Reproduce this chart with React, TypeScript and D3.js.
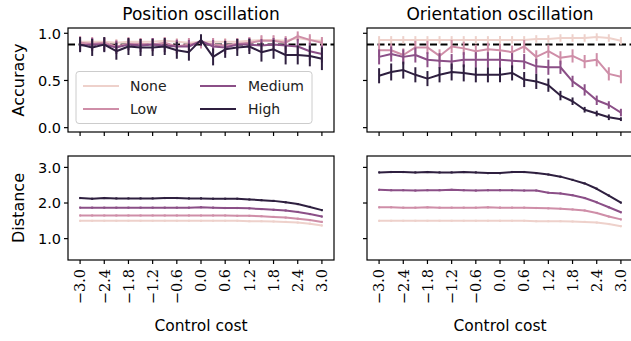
import * as d3 from 'd3';

const LEVELS = ['None', 'Low', 'Medium', 'High'];
const COLORS = ['#eed1cb', '#cf8ea8', '#8b4f87', '#2e1f3f'];

const COST = [-3.0, -2.7, -2.4, -2.1, -1.8, -1.5, -1.2, -0.9, -0.6, -0.3, 0.0, 0.3, 0.6, 0.9, 1.2, 1.5, 1.8, 2.1, 2.4, 2.7, 3.0];
const COST_TICKS = [-3.0, -2.4, -1.8, -1.2, -0.6, 0.0, 0.6, 1.2, 1.8, 2.4, 3.0];
const ACC_TICKS = [0.0, 0.5, 1.0];
const DIST_TICKS = [1.0, 2.0, 3.0];
const ACC_REF = 0.88;

// accuracy, position oscillation
const POS_ACC_NONE = [0.91, 0.91, 0.91, 0.90, 0.91, 0.91, 0.91, 0.92, 0.91, 0.90, 0.91, 0.91, 0.91, 0.91, 0.92, 0.93, 0.93, 0.92, 0.95, 0.93, 0.92];
const POS_ACC_LOW = [0.90, 0.89, 0.90, 0.86, 0.89, 0.89, 0.88, 0.90, 0.86, 0.88, 0.90, 0.88, 0.87, 0.89, 0.90, 0.92, 0.92, 0.90, 0.97, 0.93, 0.90];
const POS_ACC_MED = [0.87, 0.88, 0.88, 0.85, 0.88, 0.87, 0.88, 0.87, 0.86, 0.86, 0.92, 0.86, 0.85, 0.88, 0.88, 0.87, 0.88, 0.87, 0.86, 0.81, 0.78];
const POS_ACC_HIGH = [0.88, 0.85, 0.88, 0.81, 0.86, 0.85, 0.85, 0.86, 0.82, 0.80, 0.93, 0.75, 0.83, 0.85, 0.86, 0.80, 0.83, 0.77, 0.77, 0.76, 0.73];
const POS_ERR_NONE = [0.04, 0.04, 0.04, 0.04, 0.04, 0.04, 0.04, 0.04, 0.04, 0.04, 0.04, 0.04, 0.04, 0.04, 0.04, 0.04, 0.04, 0.04, 0.04, 0.04, 0.04];
const POS_ERR_LOW = [0.07, 0.07, 0.06, 0.07, 0.07, 0.06, 0.07, 0.06, 0.08, 0.07, 0.06, 0.07, 0.07, 0.06, 0.06, 0.06, 0.06, 0.07, 0.05, 0.06, 0.06];
const POS_ERR_MED = [0.06, 0.07, 0.07, 0.07, 0.06, 0.07, 0.07, 0.07, 0.07, 0.07, 0.05, 0.07, 0.07, 0.06, 0.07, 0.07, 0.07, 0.08, 0.08, 0.09, 0.09];
const POS_ERR_HIGH = [0.08, 0.09, 0.08, 0.09, 0.09, 0.09, 0.09, 0.09, 0.09, 0.09, 0.06, 0.09, 0.09, 0.09, 0.08, 0.10, 0.10, 0.10, 0.10, 0.11, 0.12];

// accuracy, orientation oscillation
const ORI_ACC_NONE = [0.93, 0.93, 0.93, 0.93, 0.93, 0.93, 0.93, 0.93, 0.93, 0.93, 0.93, 0.93, 0.93, 0.94, 0.94, 0.95, 0.95, 0.95, 0.96, 0.95, 0.92];
const ORI_ACC_LOW = [0.82, 0.82, 0.77, 0.85, 0.85, 0.76, 0.86, 0.84, 0.81, 0.83, 0.82, 0.80, 0.86, 0.75, 0.81, 0.74, 0.76, 0.70, 0.72, 0.57, 0.54];
const ORI_ACC_MED = [0.75, 0.78, 0.75, 0.77, 0.72, 0.71, 0.70, 0.72, 0.72, 0.72, 0.72, 0.71, 0.70, 0.65, 0.64, 0.64, 0.49, 0.40, 0.29, 0.24, 0.16];
const ORI_ACC_HIGH = [0.55, 0.59, 0.61, 0.56, 0.52, 0.56, 0.59, 0.58, 0.56, 0.56, 0.56, 0.58, 0.51, 0.49, 0.45, 0.34, 0.28, 0.19, 0.15, 0.11, 0.09];
const ORI_ERR_NONE = [0.04, 0.04, 0.04, 0.04, 0.04, 0.04, 0.04, 0.04, 0.04, 0.04, 0.04, 0.04, 0.04, 0.04, 0.04, 0.04, 0.04, 0.04, 0.04, 0.04, 0.04];
const ORI_ERR_LOW = [0.07, 0.07, 0.07, 0.07, 0.07, 0.07, 0.07, 0.07, 0.07, 0.07, 0.07, 0.07, 0.07, 0.07, 0.07, 0.07, 0.07, 0.07, 0.07, 0.07, 0.07];
const ORI_ERR_MED = [0.08, 0.08, 0.08, 0.08, 0.08, 0.08, 0.08, 0.08, 0.08, 0.08, 0.08, 0.08, 0.08, 0.08, 0.08, 0.07, 0.06, 0.06, 0.05, 0.04, 0.04];
const ORI_ERR_HIGH = [0.08, 0.09, 0.09, 0.08, 0.08, 0.08, 0.09, 0.09, 0.08, 0.08, 0.08, 0.08, 0.08, 0.08, 0.07, 0.05, 0.04, 0.03, 0.03, 0.03, 0.02];

// distance, position oscillation
const POS_DIST_NONE = [1.50, 1.50, 1.50, 1.50, 1.50, 1.50, 1.50, 1.50, 1.50, 1.50, 1.50, 1.50, 1.50, 1.50, 1.49, 1.49, 1.48, 1.47, 1.45, 1.42, 1.37];
const POS_DIST_LOW = [1.65, 1.65, 1.65, 1.65, 1.65, 1.65, 1.65, 1.65, 1.65, 1.65, 1.65, 1.65, 1.65, 1.64, 1.64, 1.63, 1.61, 1.59, 1.56, 1.52, 1.47];
const POS_DIST_MED = [1.87, 1.87, 1.87, 1.87, 1.87, 1.87, 1.87, 1.87, 1.87, 1.87, 1.88, 1.87, 1.86, 1.86, 1.85, 1.83, 1.81, 1.79, 1.75, 1.69, 1.62];
const POS_DIST_HIGH = [2.14, 2.12, 2.14, 2.13, 2.13, 2.13, 2.13, 2.14, 2.14, 2.13, 2.13, 2.12, 2.12, 2.12, 2.10, 2.08, 2.06, 2.02, 1.97, 1.89, 1.80];

// distance, orientation oscillation
const ORI_DIST_NONE = [1.50, 1.50, 1.50, 1.50, 1.50, 1.50, 1.50, 1.50, 1.50, 1.50, 1.50, 1.50, 1.50, 1.49, 1.49, 1.49, 1.48, 1.47, 1.45, 1.41, 1.35];
const ORI_DIST_LOW = [1.88, 1.88, 1.87, 1.87, 1.88, 1.87, 1.87, 1.87, 1.87, 1.88, 1.87, 1.87, 1.87, 1.86, 1.85, 1.84, 1.82, 1.79, 1.72, 1.62, 1.54];
const ORI_DIST_MED = [2.37, 2.36, 2.36, 2.35, 2.36, 2.36, 2.37, 2.36, 2.35, 2.36, 2.36, 2.36, 2.35, 2.35, 2.29, 2.27, 2.22, 2.14, 2.02, 1.88, 1.74];
const ORI_DIST_HIGH = [2.86, 2.87, 2.87, 2.86, 2.87, 2.86, 2.86, 2.87, 2.86, 2.84, 2.84, 2.87, 2.87, 2.84, 2.80, 2.74, 2.65, 2.55, 2.40, 2.21, 2.01];
const DIST_ERR = [0.03, 0.03, 0.03, 0.03];

const W = 631;
const H = 341;
const COLS = [
  { x0: 68, x1: 334, title: 'Position oscillation' },
  { x0: 367, x1: 633, title: 'Orientation oscillation' },
];
const ROWS = [
  { y0: 28, y1: 132, domain: [-0.046, 1.056], ticks: ACC_TICKS, label: 'Accuracy' },
  { y0: 156, y1: 260, domain: [0.4, 3.32], ticks: DIST_TICKS, label: 'Distance' },
];

const PANELS = [
  { row: 0, col: 0, values: [POS_ACC_NONE, POS_ACC_LOW, POS_ACC_MED, POS_ACC_HIGH], errs: [POS_ERR_NONE, POS_ERR_LOW, POS_ERR_MED, POS_ERR_HIGH] },
  { row: 0, col: 1, values: [ORI_ACC_NONE, ORI_ACC_LOW, ORI_ACC_MED, ORI_ACC_HIGH], errs: [ORI_ERR_NONE, ORI_ERR_LOW, ORI_ERR_MED, ORI_ERR_HIGH] },
  { row: 1, col: 0, values: [POS_DIST_NONE, POS_DIST_LOW, POS_DIST_MED, POS_DIST_HIGH], errs: null },
  { row: 1, col: 1, values: [ORI_DIST_NONE, ORI_DIST_LOW, ORI_DIST_MED, ORI_DIST_HIGH], errs: null },
];

const SANS = 'DejaVu Sans, sans-serif';
const SERIF = 'DejaVu Serif, serif';
const fmt = (v: number) => d3.format('.1f')(v).replace('-', '\u2212');

function Panel({ row, col, values, errs }: (typeof PANELS)[number]) {
  const c = COLS[col];
  const r = ROWS[row];
  const x = d3.scaleLinear().domain([-3.3, 3.3]).range([c.x0, c.x1]);
  const y = d3.scaleLinear().domain(r.domain).range([r.y1, r.y0]);
  const line = d3.line<number>().x((_, i) => x(COST[i])).y((d) => y(d));
  const clipId = `clip-${row}-${col}`;

  return (
    <g>
      <clipPath id={clipId}>
        <rect x={c.x0} y={r.y0} width={c.x1 - c.x0} height={r.y1 - r.y0} />
      </clipPath>
      {row === 0 && (
        <line x1={c.x0} x2={c.x1} y1={y(ACC_REF)} y2={y(ACC_REF)} stroke="#000" strokeWidth={2} strokeDasharray="7,3.5" />
      )}
      <g clipPath={`url(#${clipId})`}>
        {values.map((series, s) => (
          <g key={s} stroke={COLORS[s]} fill="none" strokeWidth={2}>
            {series.map((v, i) => {
              const e = errs ? errs[s][i] : DIST_ERR[s];
              return <line key={i} x1={x(COST[i])} x2={x(COST[i])} y1={y(v - e)} y2={y(v + e)} />;
            })}
            <path d={line(series) ?? ''} strokeLinejoin="round" />
          </g>
        ))}
      </g>
      <rect x={c.x0} y={r.y0} width={c.x1 - c.x0} height={r.y1 - r.y0} fill="none" stroke="#000" strokeWidth={1.2} />
      {COST_TICKS.map((t) => (
        <g key={t}>
          <line x1={x(t)} x2={x(t)} y1={r.y1} y2={r.y1 + 4} stroke="#000" strokeWidth={1.2} />
          {row === 1 && (
            <text
              transform={`translate(${x(t)},${r.y1 + 9}) rotate(-90)`}
              textAnchor="end"
              dy="0.36em"
              fontFamily={SERIF}
              fontSize={14.5}
              fill="#000"
            >
              {fmt(t)}
            </text>
          )}
        </g>
      ))}
      {r.ticks.map((t) => (
        <g key={t}>
          <line x1={c.x0 - 4} x2={c.x0} y1={y(t)} y2={y(t)} stroke="#000" strokeWidth={1.2} />
          {col === 0 && (
            <text x={c.x0 - 7} y={y(t)} dy="0.36em" textAnchor="end" fontFamily={SANS} fontSize={14.5} fill="#000">
              {fmt(t)}
            </text>
          )}
        </g>
      ))}
      {row === 0 && (
        <text x={(c.x0 + c.x1) / 2} y={r.y0 - 8} textAnchor="middle" fontFamily={SANS} fontSize={17} fill="#000">
          {c.title}
        </text>
      )}
      {row === 1 && (
        <text x={(c.x0 + c.x1) / 2} y={331} textAnchor="middle" fontFamily={SANS} fontSize={15.5} fill="#000">
          Control cost
        </text>
      )}
      {col === 0 && (
        <text
          transform={`translate(24,${(r.y0 + r.y1) / 2}) rotate(-90)`}
          textAnchor="middle"
          fontFamily={SANS}
          fontSize={16}
          fill="#000"
        >
          {r.label}
        </text>
      )}
    </g>
  );
}

function Legend() {
  const cols = [
    { hx: 83, tx: 130 },
    { hx: 200, tx: 248 },
  ];
  return (
    <g>
      <rect x={76} y={71.5} width={236} height={52} rx={3} fill="#fff" fillOpacity={0.8} stroke="#cccccc" strokeWidth={1} />
      {LEVELS.map((name, i) => {
        const cc = cols[Math.floor(i / 2)];
        const cy = i % 2 === 0 ? 86 : 109;
        return (
          <g key={name}>
            <line x1={cc.hx} x2={cc.hx + 36} y1={cy} y2={cy} stroke={COLORS[i]} strokeWidth={2} />
            <text x={cc.tx} y={cy} dy="0.36em" fontFamily={SANS} fontSize={14} fill="#222">
              {name}
            </text>
          </g>
        );
      })}
    </g>
  );
}

export default function App() {
  return (
    <div style={{ position: 'absolute', left: 0, top: 0 }}>
      <svg width={W} height={H} style={{ display: 'block', background: '#fff' }}>
        {PANELS.map((p) => (
          <Panel key={`${p.row}-${p.col}`} {...p} />
        ))}
        <Legend />
      </svg>
    </div>
  );
}
